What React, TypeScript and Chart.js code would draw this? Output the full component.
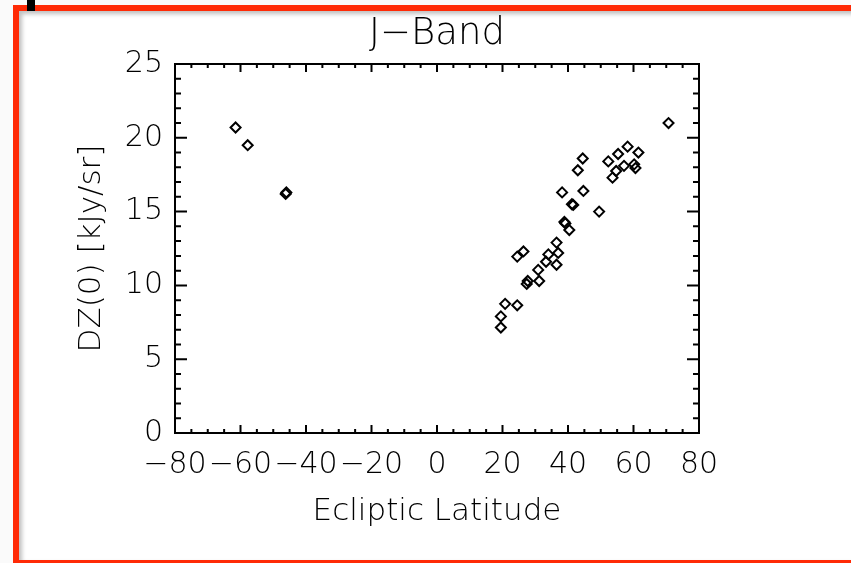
import React, { useEffect, useRef } from "react";
import { Chart, registerables } from "chart.js";

Chart.register(...registerables);

const titleText = "J\u2212Band";
const xTitle = "Ecliptic Latitude";
const yTitle = "DZ(0) [kJy/sr]";

const latitude = [
  -61.5, -57.8, -46.2, -46.0, 70.7, 58.2, 55.3, 61.5, 52.3, 44.5, 43.0, 57.1,
  60.2, 60.6, 54.7, 53.6, 44.7, 38.2, 41.2, 41.6, 49.5, 38.9, 39.2, 40.4, 36.5,
  26.4, 24.5, 37.0, 34.0, 36.5, 33.3, 30.9, 31.2, 27.7, 27.4, 20.8, 24.5, 19.5,
  19.5,
];
const dz0 = [
  20.7, 19.5, 16.2, 16.3, 21.0, 19.4, 18.9, 19.0, 18.4, 18.6, 17.8, 18.1, 18.2,
  17.95, 17.75, 17.3, 16.4, 16.3, 15.5, 15.45, 15.0, 14.3, 14.2, 13.75, 12.9,
  12.3, 11.95, 12.2, 12.1, 11.4, 11.6, 11.05, 10.3, 10.3, 10.1, 8.75, 8.65, 7.9,
  7.15,
];

const xMin = -80, xMax = 80, xMajor = 20, xMinor = 5;
const yMin = 0, yMax = 25, yMajor = 5, yMinor = 1;

const FONT = "'DejaVu Sans', sans-serif";
const W = "200";

const idlAxesPlugin = {
  id: "idlAxes",
  afterDraw(chart: any) {
    const { ctx, chartArea } = chart;
    const xs = chart.scales.x;
    const ys = chart.scales.y;
    const { left, right, top, bottom } = chartArea;
    ctx.save();
    ctx.strokeStyle = "#000";
    ctx.lineWidth = 2;
    ctx.strokeRect(left, top, right - left, bottom - top);
    ctx.beginPath();
    for (let v = xMin; v <= xMax + 1e-9; v += xMinor) {
      const px = xs.getPixelForValue(v);
      const major = Math.abs(v / xMajor - Math.round(v / xMajor)) < 1e-6;
      const len = major ? 8 : 4;
      ctx.moveTo(px, bottom);
      ctx.lineTo(px, bottom - len);
      ctx.moveTo(px, top);
      ctx.lineTo(px, top + len);
    }
    for (let v = yMin; v <= yMax + 1e-9; v += yMinor) {
      const py = ys.getPixelForValue(v);
      const major = Math.abs(v / yMajor - Math.round(v / yMajor)) < 1e-6;
      const len = major ? 12 : 6;
      ctx.moveTo(left, py);
      ctx.lineTo(left + len, py);
      ctx.moveTo(right, py);
      ctx.lineTo(right - len, py);
    }
    ctx.stroke();
    ctx.restore();
  },
};

export default function App() {
  const ref = useRef<HTMLCanvasElement | null>(null);
  useEffect(() => {
    if (!ref.current) return;
    const chart = new Chart(ref.current, {
      type: "scatter",
      data: {
        datasets: [
          {
            data: latitude.map((x, i) => ({ x, y: dz0[i] })),
            pointStyle: "rectRot",
            pointRadius: 5,
            pointBorderWidth: 2,
            borderColor: "#000",
            backgroundColor: "rgba(0,0,0,0)",
            showLine: false,
          },
        ],
      },
      options: {
        responsive: false,
        animation: false,
        layout: { padding: { top: 0, left: 0, right: 152, bottom: 0 } },
        plugins: {
          legend: { display: false },
          tooltip: { enabled: false },
          title: {
            display: true,
            fullSize: false,
            text: titleText,
            color: "#000",
            font: { family: FONT, size: 37, weight: W },
            padding: { top: 12, bottom: 7.6 },
          },
        },
        scales: {
          x: {
            type: "linear",
            min: xMin,
            max: xMax,
            afterFit: (s: any) => {
              s.height = 130;
            },
            ticks: {
              stepSize: xMajor,
              color: "#000",
              padding: 14.4,
              maxRotation: 0,
              autoSkip: false,
              font: { family: FONT, size: 30, weight: W },
              callback: (v: any) => String(v).replace("-", "\u2212"),
            },
            grid: { display: false, drawTicks: false },
            border: { display: false },
            title: {
              display: true,
              text: xTitle,
              color: "#000",
              font: { family: FONT, size: 31, weight: W },
              padding: { bottom: 32.4 },
            },
          },
          y: {
            type: "linear",
            min: yMin,
            max: yMax,
            afterFit: (s: any) => {
              s.width = 175;
            },
            ticks: {
              stepSize: yMajor,
              color: "#000",
              padding: 12,
              font: { family: FONT, size: 30, weight: W },
            },
            grid: { display: false, drawTicks: false },
            border: { display: false },
            title: {
              display: true,
              text: yTitle,
              color: "#000",
              font: { family: FONT, size: 31, weight: W },
              padding: { top: 73.4 },
            },
          },
        },
      },
      plugins: [idlAxesPlugin],
    });
    return () => chart.destroy();
  }, []);

  return (
    <div
      style={{
        position: "fixed",
        left: 0,
        top: 0,
        width: 851,
        height: 563,
        background: "#fafafa",
        overflow: "hidden",
      }}
    >
      <div
        style={{
          position: "absolute",
          left: 13,
          top: 5,
          width: 900,
          height: 549,
          border: "6px solid #ff2a06",
          background: "#fff",
          boxShadow: "inset 3px 3px 4px rgba(0,0,0,0.25)",
        }}
      />
      <div
        style={{
          position: "absolute",
          left: 27,
          top: 0,
          width: 8,
          height: 11,
          background: "#000",
        }}
      />
      <canvas
        ref={ref}
        width={851}
        height={563}
        style={{ position: "absolute", left: 0, top: 0 }}
      />
    </div>
  );
}
